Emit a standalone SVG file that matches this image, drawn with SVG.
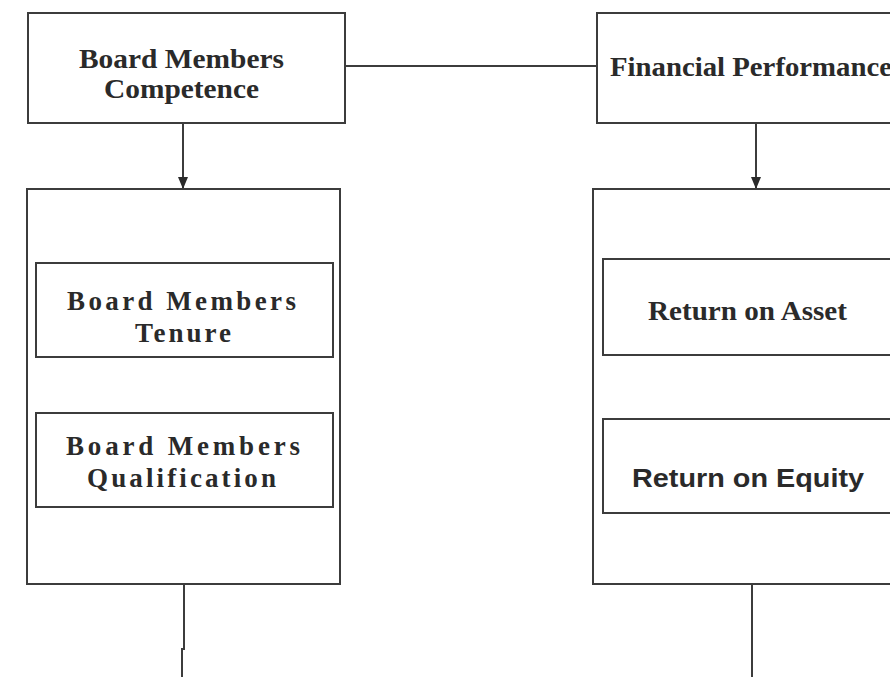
<svg xmlns="http://www.w3.org/2000/svg" width="890" height="677" viewBox="0 0 890 677">
<style>
.box{fill:#fff;stroke:#3c3c3c;stroke-width:2}
.ln{fill:none;stroke:#3c3c3c;stroke-width:2}
.serif{font-family:"Liberation Serif","Times New Roman",serif;font-weight:bold;font-size:27px;fill:#2a2a2a}
.sans{font-family:"Liberation Sans",Arial,sans-serif;font-weight:bold;font-size:26px;fill:#2a2a2a}
</style>
<defs>
<marker id="arr" viewBox="0 0 12 10" refX="12" refY="5" markerWidth="12" markerHeight="10" markerUnits="userSpaceOnUse" orient="auto">
<path d="M0,0 L12,5 L0,10 Z" fill="#2a2a2a"/>
</marker>
</defs>
<rect width="890" height="677" fill="#fff"/>
<g id="connectors">
<line class="ln" x1="345" y1="66" x2="597" y2="66"/>
<line class="ln" x1="183" y1="123" x2="183" y2="189" marker-end="url(#arr)"/>
<line class="ln" x1="756" y1="123" x2="756" y2="189" stroke-width="1.6" marker-end="url(#arr)"/>
<polyline class="ln" points="184,584 184,649 182,649 182,677"/>
<line class="ln" x1="752" y1="584" x2="752" y2="677"/>
</g>
<g id="competence">
<rect class="box" x="28" y="13" width="317" height="110"/>
<text class="serif" x="79" y="68" textLength="205" lengthAdjust="spacingAndGlyphs">Board Members</text>
<text class="serif" x="104" y="98" textLength="155" lengthAdjust="spacingAndGlyphs">Competence</text>
</g>
<g id="financial">
<rect class="box" x="597" y="13" width="310" height="110"/>
<text class="serif" x="610" y="76" textLength="282" lengthAdjust="spacingAndGlyphs">Financial Performance</text>
</g>
<g id="left-group">
<rect class="box" x="27" y="189" width="313" height="395"/>
</g>
<g id="tenure">
<rect class="box" x="36" y="263" width="297" height="94"/>
<text class="serif" x="67" y="310" textLength="229" lengthAdjust="spacing">Board Members</text>
<text class="serif" x="135" y="342" textLength="96" lengthAdjust="spacing">Tenure</text>
</g>
<g id="qualification">
<rect class="box" x="36" y="413" width="297" height="94"/>
<text class="serif" x="66" y="455" textLength="234" lengthAdjust="spacing">Board Members</text>
<text class="serif" x="87" y="487" textLength="189" lengthAdjust="spacing">Qualification</text>
</g>
<g id="right-group">
<rect class="box" x="593" y="189" width="310" height="395"/>
</g>
<g id="roa">
<rect class="box" x="603" y="259" width="300" height="96"/>
<text class="serif" x="648" y="320" textLength="199" lengthAdjust="spacingAndGlyphs">Return on Asset</text>
</g>
<g id="roe">
<rect class="box" x="603" y="419" width="300" height="94"/>
<text class="sans" x="632" y="487" textLength="232" lengthAdjust="spacingAndGlyphs">Return on Equity</text>
</g>
</svg>
